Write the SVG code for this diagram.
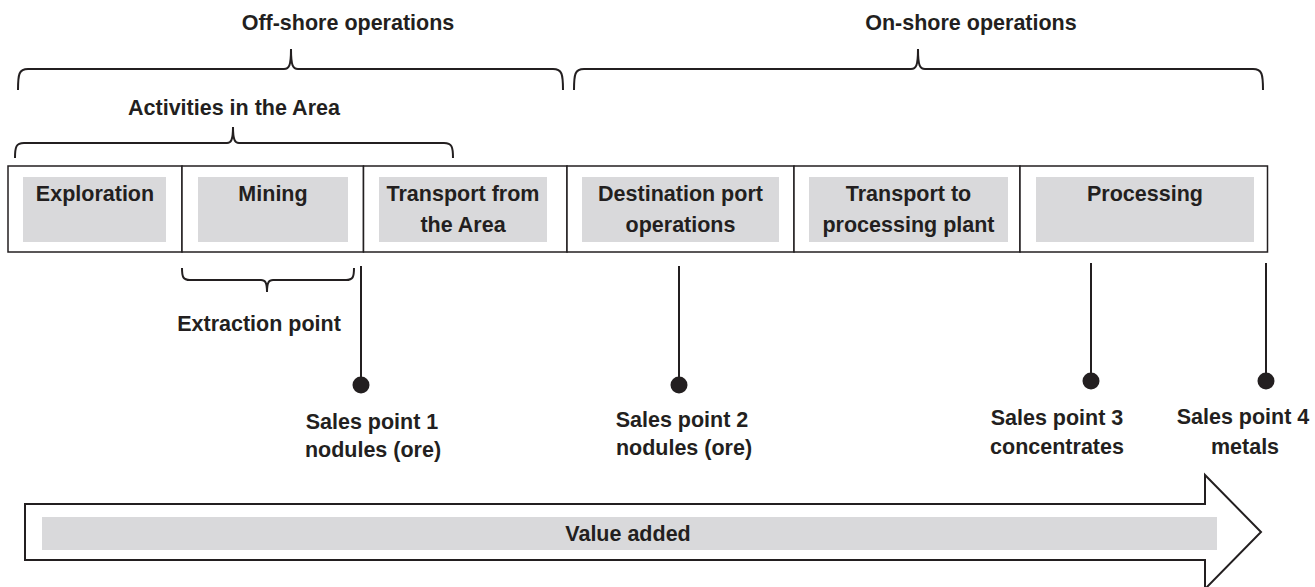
<svg xmlns="http://www.w3.org/2000/svg" width="1315" height="587" viewBox="0 0 1315 587">
<style>
  .cell { fill: #ffffff; stroke: #231f20; stroke-width: 1.5; }
  .shade { fill: #d9d9db; stroke: none; }
  .lbl { font-family: "Liberation Sans", Arial, sans-serif; font-size: 21.5px; font-weight: bold; fill: #231f20; text-anchor: middle; }
  .brace { fill: none; stroke: #231f20; stroke-width: 2; }
  .conn { stroke: #231f20; stroke-width: 2; fill: none; }
  .dot { fill: #231f20; }
</style>
<rect width="1315" height="587" fill="#ffffff"/>

<g id="braces">
  <g id="offshore">
    <path class="brace" d="M18 90 C18 74 19 69 28 69 L284 69 C289 69 291 66 291 49 C291 66 293 69 298 69 L553 69 C562 69 563 74 563 90"/>
    <text class="lbl" x="348" y="30">Off-shore operations</text>
  </g>
  <g id="onshore">
    <path class="brace" d="M574 90 C574 74 575 69 584 69 L911 69 C916 69 918 66 918 49 C918 66 920 69 925 69 L1253 69 C1262 69 1263 74 1263 90"/>
    <text class="lbl" x="971" y="30">On-shore operations</text>
  </g>
  <g id="activities">
    <path class="brace" d="M15 158 C15 147 16 143 24 143 L227 143 C231 143 233 140 233 127 C233 140 235 143 239 143 L444 143 C452 143 453 147 453 158"/>
    <text class="lbl" x="234" y="115">Activities in the Area</text>
  </g>
  <g id="extraction">
    <path class="brace" d="M182 268 C182 277 183 280 190 280 L261 280 C265 280 267 282 267 292 C267 282 269 280 273 280 L346 280 C353 280 354 277 354 268"/>
    <text class="lbl" x="259" y="331">Extraction point</text>
  </g>
</g>

<g id="exploration">
  <rect class="cell" x="8" y="166" width="174" height="86"/>
  <rect class="shade" x="23" y="177" width="143" height="65"/>
  <text class="lbl" x="95" y="201">Exploration</text>
</g>
<g id="mining">
  <rect class="cell" x="182" y="166" width="181.5" height="86"/>
  <rect class="shade" x="198" y="177" width="150" height="65"/>
  <text class="lbl" x="273" y="201">Mining</text>
</g>
<g id="transport-from">
  <rect class="cell" x="363.5" y="166" width="203.5" height="86"/>
  <rect class="shade" x="379" y="177" width="168" height="65"/>
  <text class="lbl" x="463" y="201">Transport from</text>
  <text class="lbl" x="463" y="232">the Area</text>
</g>
<g id="destination">
  <rect class="cell" x="567" y="166" width="227" height="86"/>
  <rect class="shade" x="582" y="177" width="197" height="65"/>
  <text class="lbl" x="680.5" y="201">Destination port</text>
  <text class="lbl" x="680.5" y="232">operations</text>
</g>
<g id="transport-to">
  <rect class="cell" x="794" y="166" width="226" height="86"/>
  <rect class="shade" x="809" y="177" width="199" height="65"/>
  <text class="lbl" x="908.5" y="201">Transport to</text>
  <text class="lbl" x="908.5" y="232">processing plant</text>
</g>
<g id="processing">
  <rect class="cell" x="1020" y="166" width="247.5" height="86"/>
  <rect class="shade" x="1036" y="177" width="218" height="65"/>
  <text class="lbl" x="1145" y="201">Processing</text>
</g>

<g id="connectors">
  <line class="conn" x1="361" y1="266" x2="361" y2="385"/>
  <line class="conn" x1="679" y1="266" x2="679" y2="385"/>
  <line class="conn" x1="1091" y1="263" x2="1091" y2="381"/>
  <line class="conn" x1="1266" y1="263" x2="1266" y2="381"/>
</g>

<g id="sales1">
  <circle class="dot" cx="361" cy="385" r="8.5"/>
  <text class="lbl" x="372" y="429">Sales point 1</text>
  <text class="lbl" x="373" y="457">nodules (ore)</text>
</g>
<g id="sales2">
  <circle class="dot" cx="679" cy="385" r="8.5"/>
  <text class="lbl" x="682" y="427">Sales point 2</text>
  <text class="lbl" x="684" y="455">nodules (ore)</text>
</g>
<g id="sales3">
  <circle class="dot" cx="1091" cy="381" r="8.5"/>
  <text class="lbl" x="1057" y="425">Sales point 3</text>
  <text class="lbl" x="1057" y="454">concentrates</text>
</g>
<g id="sales4">
  <circle class="dot" cx="1266" cy="381" r="8.5"/>
  <text class="lbl" x="1243" y="424" font-size="21">Sales point 4</text>
  <text class="lbl" x="1245" y="454">metals</text>
</g>

<g id="value-added">
  <polygon points="25,504 1205,504 1205,475 1261,532 1205,589 1205,560 25,560" fill="#ffffff" stroke="#231f20" stroke-width="2"/>
  <rect class="shade" x="42" y="517" width="1175" height="33"/>
  <text class="lbl" x="628" y="541">Value added</text>
</g>
</svg>
